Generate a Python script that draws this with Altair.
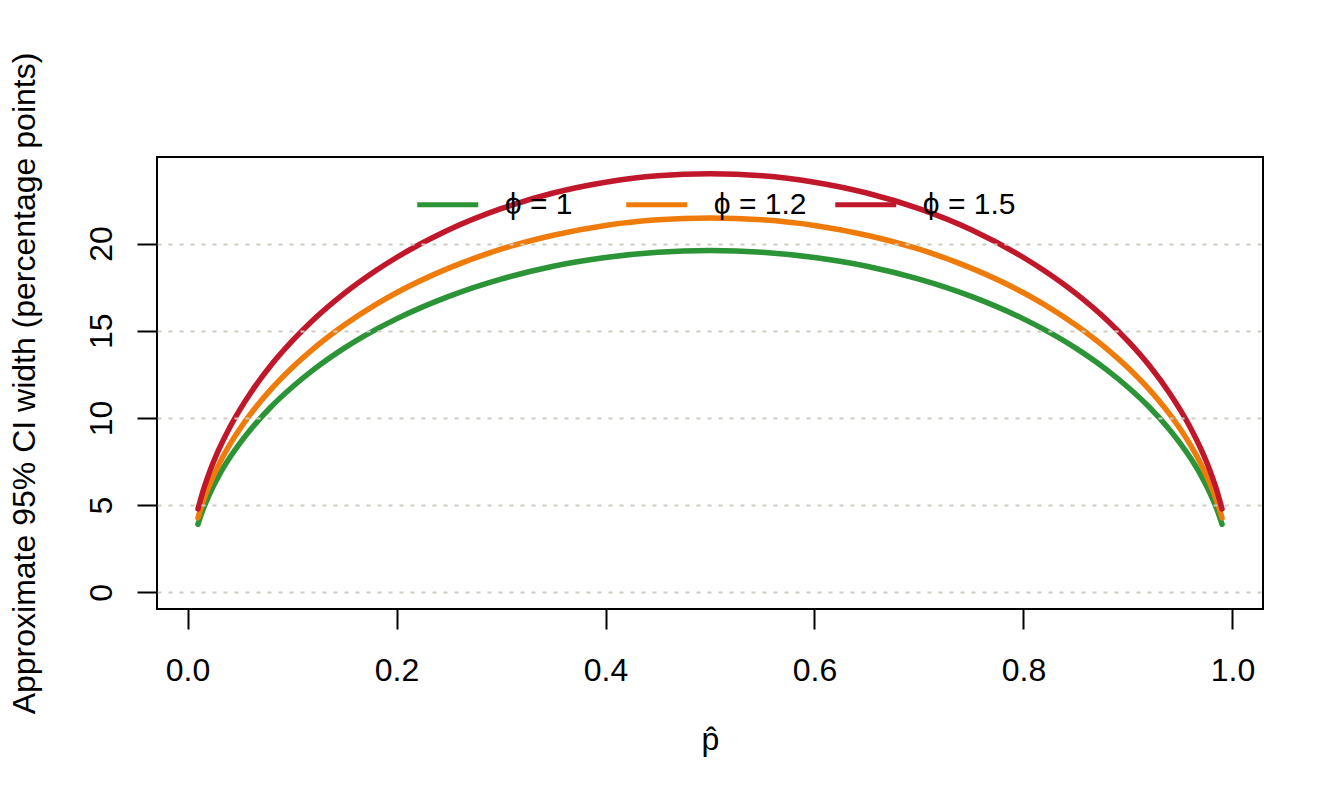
import altair as alt
import pandas as pd

# p-hat grid and approximate 95% CI widths (percentage points)
p_hat = [0.01, 0.015, 0.02, 0.03, 0.04, 0.05, 0.06, 0.08, 0.10, 0.12, 0.15, 0.18, 0.20,
         0.25, 0.30, 0.35, 0.40, 0.45, 0.50, 0.55, 0.60, 0.65, 0.70, 0.75, 0.80, 0.82,
         0.85, 0.88, 0.90, 0.92, 0.94, 0.95, 0.96, 0.97, 0.98, 0.985, 0.99]

width_phi_1 = [3.90, 4.77, 5.49, 6.69, 7.68, 8.54, 9.31, 10.64, 11.76, 12.74, 14.00, 15.06, 15.68,
               16.97, 17.96, 18.70, 19.20, 19.50, 19.60, 19.50, 19.20, 18.70, 17.96, 16.97, 15.68, 15.06,
               14.00, 12.74, 11.76, 10.64, 9.31, 8.54, 7.68, 6.69, 5.49, 4.77, 3.90]

width_phi_12 = [4.27, 5.22, 6.01, 7.33, 8.42, 9.36, 10.20, 11.65, 12.88, 13.95, 15.33, 16.50, 17.18,
                18.59, 19.68, 20.48, 21.04, 21.36, 21.47, 21.36, 21.04, 20.48, 19.68, 18.59, 17.18, 16.50,
                15.33, 13.95, 12.88, 11.65, 10.20, 9.36, 8.42, 7.33, 6.01, 5.22, 4.27]

width_phi_15 = [4.78, 5.84, 6.72, 8.19, 9.41, 10.46, 11.40, 13.03, 14.40, 15.60, 17.14, 18.44, 19.20,
                20.79, 22.00, 22.90, 23.52, 23.89, 24.00, 23.89, 23.52, 22.90, 22.00, 20.79, 19.20, 18.44,
                17.14, 15.60, 14.40, 13.03, 11.40, 10.46, 9.41, 8.19, 6.72, 5.84, 4.78]

series_labels = ["ϕ = 1", "ϕ = 1.2", "ϕ = 1.5"]
series_colors = ["#2b9437", "#ef7b0a", "#c1172a"]
x_ticks = [0.0, 0.2, 0.4, 0.6, 0.8, 1.0]
y_ticks = [0, 5, 10, 15, 20]

rows = []
for lab, vals in zip(series_labels, [width_phi_1, width_phi_12, width_phi_15]):
    for p, v in zip(p_hat, vals):
        rows.append({"p": p, "w": v, "phi": lab})
df = pd.DataFrame(rows)

FONT = "Liberation Sans"

chart = alt.Chart(df).mark_line(
    strokeWidth=5.5, strokeCap="round", strokeJoin="round", interpolate="monotone"
).encode(
    x=alt.X(
        "p:Q",
        scale=alt.Scale(domain=[-0.0292, 1.0292], nice=False, zero=False),
        axis=alt.Axis(
            values=x_ticks, format=".1f", title="p̂", grid=False, domain=False,
            tickSize=20, tickWidth=2, tickColor="black",
            labelFont=FONT, labelFontSize=32, labelColor="black", labelPadding=26.5,
            labelFlush=False, labelOverlap=False,
            titleFont=FONT, titleFontSize=32, titleFontWeight="normal", titleColor="black",
            titlePadding=38,
        ),
    ),
    y=alt.Y(
        "w:Q",
        scale=alt.Scale(domain=[-0.96, 24.965], nice=False, zero=False),
        axis=alt.Axis(
            values=y_ticks, format="d",
            title="Approximate 95% CI width (percentage points)",
            grid=True, gridDash=[4, 7], gridColor="#d0cbc2", gridWidth=2,
            domain=False, tickSize=20, tickWidth=2, tickColor="black",
            labelFont=FONT, labelFontSize=32, labelColor="black", labelPadding=18.5,
            labelAngle=270, labelAlign="center", labelBaseline="bottom",
            labelFlush=False, labelOverlap=False,
            titleFont=FONT, titleFontSize=32, titleFontWeight="normal", titleColor="black",
            titlePadding=44, zindex=1,
        ),
    ),
    color=alt.Color(
        "phi:N",
        scale=alt.Scale(domain=series_labels, range=series_colors),
        title=None,
        legend=alt.Legend(
            orient="none", legendX=257.75, legendY=14.75, direction="horizontal",
            columns=3, gridAlign="all", symbolType="stroke", symbolSize=3721,
            symbolStrokeWidth=5, labelOffset=24, columnPadding=18,
            labelFont=FONT, labelFontSize=30, labelColor="black", padding=0,
        ),
    ),
).properties(
    width=1106,
    height=452,
    background="white",
    autosize=alt.AutoSizeParams(type="none"),
    padding={"left": 149, "top": 149, "right": 73, "bottom": 189},
).configure_view(
    stroke="black", strokeWidth=2
)

chart.save("out.html", embed_options={"renderer": "svg", "actions": False})
